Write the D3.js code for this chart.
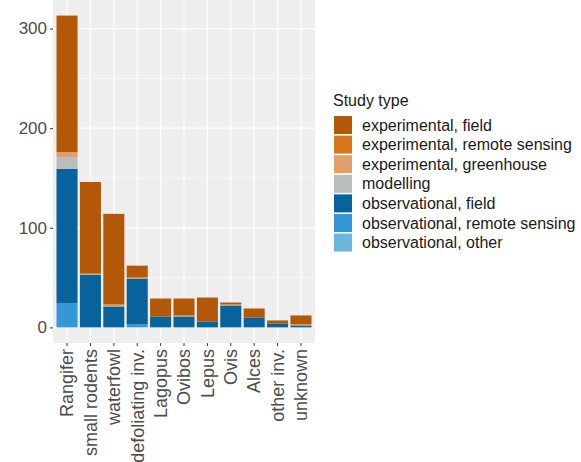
<!DOCTYPE html>
<html>
<head>
<meta charset="utf-8">
<script src="https://cdn.jsdelivr.net/npm/d3@7"></script>
<style>
  html, body { margin: 0; padding: 0; background: #ffffff; }
  svg { display: block; font-family: "Liberation Sans", Arial, sans-serif; }
</style>
</head>
<body>
<svg id="chart" width="581" height="462"></svg>
<script>
// ---- data ----
const categories = ["Rangifer", "small rodents", "waterfowl", "defoliating inv.", "Lagopus", "Ovibos", "Lepus", "Ovis", "Alces", "other inv.", "unknown"];
const studyTypes = ["experimental, field", "experimental, remote sensing", "experimental, greenhouse", "modelling", "observational, field", "observational, remote sensing", "observational, other"];
const expField      = [137, 92, 91, 12, 18, 17, 24, 2, 9, 3, 9];
const expRemote     = [0, 0, 0, 0, 0, 0, 0, 0, 0, 0, 0];
const expGreenhouse = [5, 1, 2, 1, 0, 1, 0, 1, 0, 0, 1];
const modelling     = [12, 0, 0, 0, 0, 0, 0, 0, 0, 0, 0];
const obsField      = [135, 53, 21, 46, 11, 11, 6, 22, 10, 4, 2];
const obsRemote     = [24, 0, 0, 3, 0, 0, 0, 0, 0, 0, 0];
const obsOther      = [0, 0, 0, 0, 0, 0, 0, 0, 0, 0, 0];
const yTicks = [0, 100, 200, 300];
const yMinor = [50, 150, 250];
const colors = ["#b35806", "#d9781a", "#e0a06c", "#b9bebc", "#08629c", "#3598d6", "#6cb5df"];
const legendTitle = "Study type";

const seriesValues = [expField, expRemote, expGreenhouse, modelling, obsField, obsRemote, obsOther];

// table for stacking
const table = categories.map((c, i) => {
  const row = { category: c };
  studyTypes.forEach((s, k) => { row[s] = seriesValues[k][i]; });
  return row;
});

// ggplot stacks first level on top -> stack in reverse order from bottom
const stackOrder = studyTypes.slice().reverse();
const stacked = d3.stack().keys(stackOrder)(table);

const svg = d3.select("#chart");
const panel = { left: 53, right: 315, top: 0, bottom: 343 };

const maxTotal = d3.max(table, r => d3.sum(studyTypes, s => r[s]));
const ext = maxTotal * 0.05;

const x = d3.scaleBand().domain(categories).range([panel.left, panel.right])
  .paddingInner(0.1).paddingOuter(0.15);
const y = d3.scaleLinear().domain([-ext, maxTotal + ext]).range([panel.bottom, panel.top]);
const color = d3.scaleOrdinal().domain(studyTypes).range(colors);

// panel background
svg.append("rect").attr("x", panel.left).attr("y", panel.top)
  .attr("width", panel.right - panel.left).attr("height", panel.bottom - panel.top)
  .attr("fill", "#eeeeee");

// grid
const grid = svg.append("g");
grid.selectAll(".minor").data(yMinor).enter().append("line")
  .attr("x1", panel.left).attr("x2", panel.right)
  .attr("y1", d => y(d)).attr("y2", d => y(d))
  .attr("stroke", "#ffffff").attr("stroke-width", 0.6);
grid.selectAll(".major").data(yTicks).enter().append("line")
  .attr("x1", panel.left).attr("x2", panel.right)
  .attr("y1", d => y(d)).attr("y2", d => y(d))
  .attr("stroke", "#ffffff").attr("stroke-width", 1.2);
grid.selectAll(".vmajor").data(categories).enter().append("line")
  .attr("x1", d => x(d) + x.bandwidth() / 2).attr("x2", d => x(d) + x.bandwidth() / 2)
  .attr("y1", panel.top).attr("y2", panel.bottom)
  .attr("stroke", "#ffffff").attr("stroke-width", 1.2);

// bars
svg.append("g").selectAll("g").data(stacked).enter().append("g")
  .attr("fill", d => color(d.key))
  .selectAll("rect").data(d => d).enter().append("rect")
  .attr("x", d => x(d.data.category))
  .attr("width", x.bandwidth())
  .attr("y", d => y(d[1]))
  .attr("height", d => Math.max(0, y(d[0]) - y(d[1])));

// y axis
const yAxis = d3.axisLeft(y).tickValues(yTicks).tickSize(3).tickPadding(3);
const gy = svg.append("g").attr("transform", `translate(${panel.left},0)`).call(yAxis);
gy.select(".domain").remove();
gy.selectAll(".tick line").attr("stroke", "#333333");
gy.selectAll(".tick text").attr("fill", "#4d4d4d").style("font-size", "17px")
  .style("font-family", "'Liberation Sans', Arial, sans-serif");

// x axis
const xAxis = d3.axisBottom(x).tickSize(3).tickPadding(3);
const gx = svg.append("g").attr("transform", `translate(0,${panel.bottom})`).call(xAxis);
gx.select(".domain").remove();
gx.selectAll(".tick line").attr("stroke", "#333333");
gx.selectAll(".tick text")
  .attr("fill", "#4d4d4d").style("font-size", "18px")
  .style("font-family", "'Liberation Sans', Arial, sans-serif")
  .attr("text-anchor", "end")
  .attr("transform", "rotate(-90)")
  .attr("x", -6).attr("y", 0).attr("dy", "0.35em");

// legend
const lg = svg.append("g").attr("transform", "translate(333,0)");
lg.append("text").attr("x", 0).attr("y", 106).text(legendTitle)
  .attr("fill", "#1a1a1a").style("font-size", "16px");
const items = lg.selectAll(".item").data(studyTypes).enter().append("g")
  .attr("transform", (d, i) => `translate(0,${116 + i * 19.6})`);
items.append("rect").attr("x", 1).attr("y", 0).attr("width", 18).attr("height", 18)
  .attr("fill", d => color(d));
items.append("text").attr("x", 29).attr("y", 9).attr("dy", "0.35em")
  .text(d => d).attr("fill", "#1a1a1a").style("font-size", "16px");
</script>
</body>
</html>
